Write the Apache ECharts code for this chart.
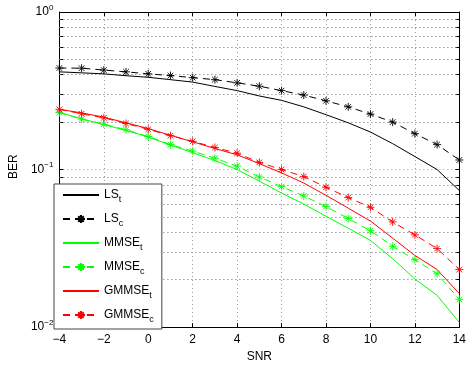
<!DOCTYPE html>
<html>
<head>
<meta charset="utf-8">
<script src="https://cdn.jsdelivr.net/npm/echarts@6/dist/echarts.min.js"></script>
<style>
html,body{margin:0;padding:0;background:#fff;}
#chart{width:469px;height:368px;}
</style>
</head>
<body>
<div id="chart"></div>
<script>
const snr = [-4,-3,-2,-1,0,1,2,3,4,5,6,7,8,9,10,11,12,13,14];
const lsT = [0.417,0.411,0.405,0.394,0.385,0.372,0.359,0.337,0.317,0.293,0.275,0.250,0.223,0.198,0.173,0.146,0.121,0.100,0.0736];
const lsC = [0.441,0.440,0.428,0.417,0.405,0.395,0.383,0.372,0.355,0.338,0.317,0.297,0.273,0.250,0.225,0.200,0.169,0.144,0.115];
const mmseT = [0.230,0.210,0.193,0.177,0.161,0.143,0.128,0.114,0.100,0.0844,0.0709,0.0604,0.0505,0.0424,0.0355,0.0272,0.0202,0.0159,0.0107];
const mmseC = [0.230,0.209,0.194,0.179,0.162,0.144,0.131,0.118,0.105,0.0897,0.0779,0.0680,0.0582,0.0489,0.0409,0.0326,0.0268,0.0218,0.0150];
const gmmseT = [0.241,0.229,0.215,0.198,0.182,0.165,0.150,0.136,0.124,0.109,0.0952,0.0821,0.0686,0.0569,0.0471,0.0367,0.0285,0.0232,0.0163];
const gmmseC = [0.241,0.226,0.213,0.196,0.180,0.164,0.151,0.138,0.127,0.111,0.100,0.0902,0.0772,0.0664,0.0576,0.0465,0.0385,0.0315,0.0232];
const yMajor = [0.01,0.1,1];
const yMinor = [0.02,0.03,0.04,0.05,0.06,0.07,0.08,0.09,0.2,0.3,0.4,0.5,0.6,0.7,0.8,0.9];
const yAllTicks = yMajor.concat(yMinor);
const legendNames = ['LS_t','LS_c','MMSE_t','MMSE_c','GMMSE_t','GMMSE_c'];

const FONT = 'Liberation Sans, Arial, sans-serif';
const star = 'path://M5,0L5,10M0,5L10,5M1.5,1.5L8.5,8.5M1.5,8.5L8.5,1.5';
const pairs = (ys) => snr.map((x,i)=>[x, ys[i]]);
const minus = s => String(s).replace('-', '\u2212');
const dotted = {color: '#9a9a9a', width: 1, type: [1,3]};

function mk(name, data, color, dashed) {
  return {
    name: name, type: 'line', data: pairs(data),
    xAxisIndex: 0, yAxisIndex: 0, z: 3,
    symbol: dashed ? star : 'none',
    symbolSize: 8,
    showSymbol: dashed,
    itemStyle: {color: color, borderColor: color, borderWidth: 0.9},
    lineStyle: {color: color, width: 1, type: dashed ? [7,5] : 'solid'},
    emphasis: {disabled: true},
    animation: false
  };
}

const chart = echarts.init(document.getElementById('chart'), null, {renderer: 'canvas'});
chart.setOption({
  backgroundColor: '#fff',
  animation: false,
  grid: {left: 46, right: 9, top: 12, bottom: 30, containLabel: false},
  xAxis: [{
    type: 'value', min: -4, max: 14, interval: 2, position: 'bottom',
    name: 'SNR', nameLocation: 'middle', nameGap: 23,
    nameTextStyle: {fontFamily: FONT, fontSize: 12, color: '#000'},
    axisLine: {show: true, onZero: false, lineStyle: {color: '#000', width: 1}},
    axisTick: {show: true, inside: true, length: 4, lineStyle: {color: '#000'}},
    axisLabel: {fontFamily: FONT, fontSize: 12, color: '#000', margin: 7, formatter: v => minus(v)},
    splitLine: {show: true, lineStyle: dotted}
  }, {
    type: 'value', min: -4, max: 14, interval: 2, position: 'top',
    axisLine: {show: true, onZero: false, lineStyle: {color: '#000', width: 1}},
    axisTick: {show: true, inside: true, length: 4, lineStyle: {color: '#000'}},
    axisLabel: {show: false}, splitLine: {show: false}
  }],
  yAxis: [{
    type: 'log', logBase: 10, min: 0.01, max: 1, position: 'left',
    name: 'BER', nameLocation: 'middle', nameGap: 27, nameRotate: 90,
    nameTextStyle: {fontFamily: FONT, fontSize: 12, color: '#000', padding: [0,0,0,6]},
    axisLine: {show: true, onZero: false, lineStyle: {color: '#000', width: 1}},
    axisTick: {show: true, inside: true, length: 4, lineStyle: {color: '#000'}, customValues: yAllTicks},
    axisLabel: {
      fontFamily: FONT, margin: 6, customValues: yMajor,
      formatter: v => '{b|10}{s|' + minus(Math.round(Math.log10(v))) + '}',
      rich: {b: {fontFamily: FONT, fontSize: 12, color: '#000'},
             s: {fontFamily: FONT, fontSize: 8, color: '#000', padding: [0,0,9,0]}}
    },
    splitLine: {show: true, lineStyle: dotted}
  }, {
    type: 'log', logBase: 10, min: 0.01, max: 1, position: 'right',
    axisLine: {show: true, onZero: false, lineStyle: {color: '#000', width: 1}},
    axisTick: {show: true, inside: true, length: 4, lineStyle: {color: '#000'}, customValues: yAllTicks},
    axisLabel: {show: false}, splitLine: {show: false}
  }],
  legend: {
    orient: 'vertical', left: 54, top: 184,
    padding: [5, 8, 5, 8], itemGap: 9,
    itemWidth: 36, itemHeight: 10,
    backgroundColor: '#fff', borderColor: '#444', borderWidth: 1,
    data: legendNames.map(n => n.endsWith('_t') ? {name: n, itemStyle: {opacity: 0}} : {name: n}),
    formatter: name => { const p = name.split('_'); return '{n|' + p[0] + '}{s|' + p[1] + '}'; },
    textStyle: {
      fontFamily: FONT, fontSize: 12, color: '#000',
      rich: {n: {fontFamily: FONT, fontSize: 12, color: '#000'},
             s: {fontFamily: FONT, fontSize: 9, color: '#000', padding: [9,0,0,0]}}
    },
    selectedMode: false
  },
  series: [
    {
      name: 'minorGrid', type: 'line', data: [], xAxisIndex: 0, yAxisIndex: 0, z: 1,
      markLine: {
        silent: true, symbol: ['none','none'], animation: false, z: 1,
        label: {show: false}, lineStyle: dotted, emphasis: {disabled: true},
        data: yMinor.map(v => ({yAxis: v}))
      }
    },
    mk('LS_t', lsT, '#000000', false),
    mk('LS_c', lsC, '#000000', true),
    mk('MMSE_t', mmseT, '#00ff00', false),
    mk('MMSE_c', mmseC, '#00ff00', true),
    mk('GMMSE_t', gmmseT, '#ff0000', false),
    mk('GMMSE_c', gmmseC, '#ff0000', true)
  ]
});
</script>
</body>
</html>
